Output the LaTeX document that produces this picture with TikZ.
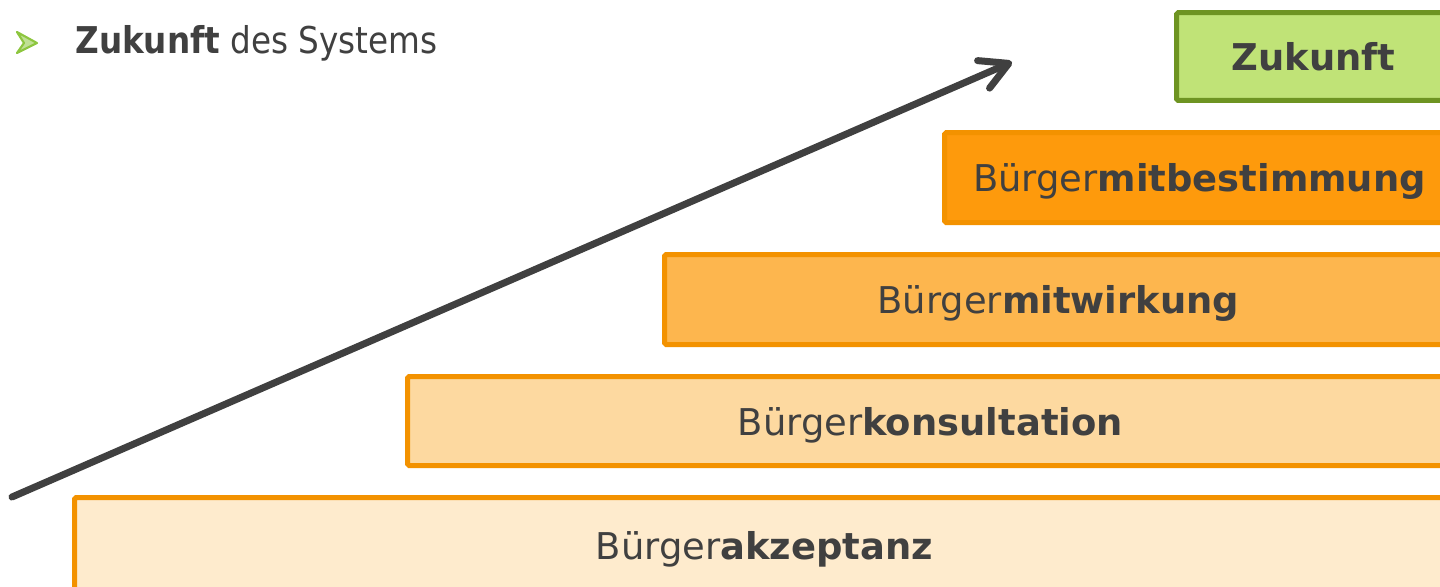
\documentclass[tikz,border=0pt]{standalone}
\usepackage{fontspec}
\setmainfont{DejaVu Sans}
\newfontfamily\titelfont[FakeStretch=0.885]{DejaVu Sans}
\usetikzlibrary{arrows.meta,positioning}
\definecolor{dunkel}{HTML}{404040}
\definecolor{rand}{HTML}{F39200}
\definecolor{stufeA}{HTML}{FEEBCD}
\definecolor{stufeB}{HTML}{FDD9A0}
\definecolor{stufeC}{HTML}{FDB64E}
\definecolor{stufeD}{HTML}{FE9A0C}
\definecolor{gruen}{HTML}{C0E377}
\definecolor{gruenrand}{HTML}{6E9422}
\definecolor{punkt}{HTML}{8DC63F}
\begin{document}
\begin{tikzpicture}
[x=0.02cm,y=-0.02cm,every node/.style={text=dunkel,font=\fontsize{21}{25}\selectfont},
	stufe/.style={draw=rand,line width=0.1cm,rounded corners=1pt,inner sep=0pt,anchor=west,
		text height=16pt,text depth=0pt},
	pfeil/.style={draw=dunkel,line width=0.14cm,line cap=round,
		-{Straight Barb[length=0.55cm,width=0.6cm,line cap=round,line join=round]}}]
\useasboundingbox (0,0) rectangle (1440,586);

% Stufen
\foreach \name/\x/\y/\breite/\hoehe/\farbe/\wort in
	{akz/72/545/27.6cm/1.9cm/stufeA/akzeptanz,
	 kons/405/421/20.92cm/1.78cm/stufeB/konsultation,
	 mitw/662/299.5/15.76cm/1.8cm/stufeC/mitwirkung,
	 mitb/942/177.5/10.2cm/1.8cm/stufeD/mitbestimmung}{
	\node[stufe,fill=\farbe,minimum width=\breite,minimum height=\hoehe] (\name) at (\x,\y) {B\"urger\textbf{\wort}};
}
\node[stufe,draw=gruenrand,fill=gruen,minimum width=5.48cm,minimum height=1.76cm] (zuk) at (1174,56.5) {\textbf{Zukunft}};

% Titel
\filldraw[fill=punkt!55,draw=punkt,line width=1.2pt,line join=round] (17,32) -- (37,43) -- (17,53) -- (24,43) -- cycle;
\node[anchor=base west,inner sep=0pt,font=\titelfont\fontsize{21}{25}\selectfont] (titel) at (75,53) {\textbf{Zukunft} des Systems};

% Pfeil
\coordinate (start) at (12,497);
\coordinate (ziel) at (1012,62);
\draw[pfeil] (start) -- (ziel);
\end{tikzpicture}
\end{document}
